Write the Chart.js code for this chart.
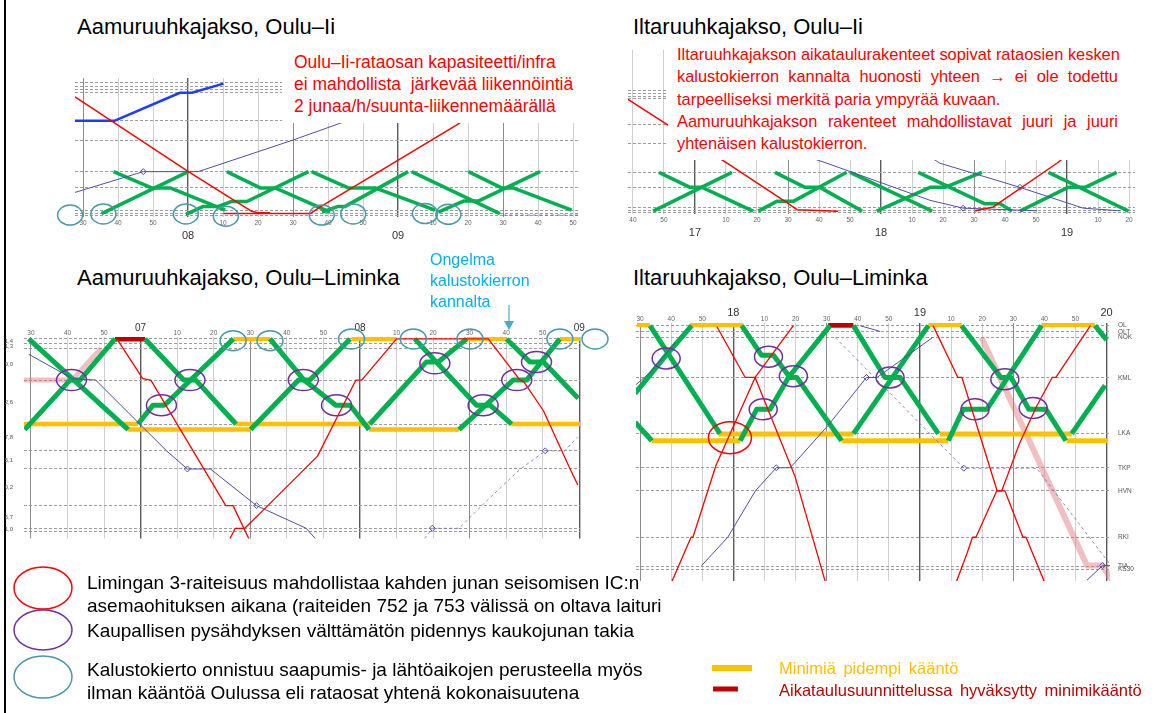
<!DOCTYPE html>
<html>
<head>
<meta charset="utf-8">
<script src="https://cdn.jsdelivr.net/npm/chart.js@4"></script>
<style>
  body { margin: 0; background: #fff; font-family: "Liberation Sans", Arial, sans-serif; }
  #page { position: relative; width: 1165px; height: 713px; overflow: hidden; background: #fff; }
  canvas { position: absolute; }
  .t { position: absolute; white-space: nowrap; }
  .title { font-size: 22px; line-height: 26px; color: #000; }
  .box { position: absolute; background: #fff; color: #ff0000; }
  .jl { text-align: justify; text-align-last: justify; white-space: nowrap; }
  .leg { font-size: 19px; line-height: 23px; color: #000; }
</style>
</head>
<body>
<div id="page">
  <div style="position:absolute;left:4px;top:0;width:1.5px;height:713px;background:#000"></div>

  <canvas id="c1" width="540" height="173" style="left:50px;top:73px"></canvas>
  <canvas id="c2" width="527" height="200" style="left:618px;top:45px"></canvas>
  <canvas id="c3" width="615" height="235" style="left:5px;top:310px"></canvas>
  <canvas id="c4" width="539" height="293" style="left:626px;top:300px"></canvas>

  <div class="t title" style="left:77px;top:14px">Aamuruuhkajakso, Oulu–Ii</div>
  <div class="t title" style="left:633px;top:14px">Iltaruuhkajakso, Oulu–Ii</div>
  <div class="t title" style="left:77px;top:265px">Aamuruuhkajakso, Oulu–Liminka</div>
  <div class="t title" style="left:633px;top:265px">Iltaruuhkajakso, Oulu–Liminka</div>

  <div class="box" style="left:282px;top:51px;width:308px;height:72px;padding-left:12px;box-sizing:border-box;font-size:17.5px;line-height:22px">
    <div>Oulu–Ii-rataosan kapasiteetti/infra</div>
    <div>ei mahdollista&nbsp; järkevää liikennöintiä</div>
    <div>2 junaa/h/suunta-liikennemäärällä</div>
  </div>

  <div class="box" style="left:668px;top:40px;width:475px;height:120px;padding:3px 0 0 9px;box-sizing:border-box;font-size:16.4px;line-height:22.3px">
    <div class="jl" style="width:441px">Iltaruuhkajakson aikataulurakenteet sopivat rataosien kesken</div>
    <div class="jl" style="width:441px">kalustokierron kannalta huonosti yhteen → ei ole todettu</div>
    <div>tarpeelliseksi merkitä paria ympyrää kuvaan.</div>
    <div class="jl" style="width:441px">Aamuruuhkajakson rakenteet mahdollistavat juuri ja juuri</div>
    <div>yhtenäisen kalustokierron.</div>
  </div>

  <div class="t" style="left:430px;top:249px;font-size:16px;line-height:21px;color:#00b0f0">Ongelma<br>kalustokierron<br>kannalta</div>

  <svg style="position:absolute;left:0;top:0" width="1165" height="713">
    <line x1="509" y1="305" x2="509" y2="322" stroke="#4bacc6" stroke-width="1.2"/>
    <polygon points="504,321 514,321 509,330" fill="#4bacc6"/>
    <ellipse cx="43" cy="588" rx="29" ry="21" fill="none" stroke="#ff0000" stroke-width="1.5"/>
    <ellipse cx="43" cy="630" rx="29" ry="20" fill="none" stroke="#7030a0" stroke-width="1.5"/>
    <ellipse cx="43" cy="677" rx="29" ry="21" fill="none" stroke="#4a98a8" stroke-width="1.5"/>
    <line x1="712" y1="668" x2="752" y2="668" stroke="#ffc000" stroke-width="6"/>
    <line x1="713" y1="689" x2="738" y2="689" stroke="#c00000" stroke-width="5"/>
  </svg>

  <div class="t leg" style="left:87px;top:571px">Limingan 3-raiteisuus mahdollistaa kahden junan seisomisen IC:n<br>asemaohituksen aikana (raiteiden 752 ja 753 välissä on oltava laituri</div>
  <div class="t leg" style="left:87px;top:619px">Kaupallisen pysähdyksen välttämätön pidennys kaukojunan takia</div>
  <div class="t leg" style="left:87px;top:658px">Kalustokierto onnistuu saapumis- ja lähtöaikojen perusteella myös<br>ilman kääntöä Oulussa eli rataosat yhtenä kokonaisuutena</div>

  <div class="t" style="left:779px;top:658px;font-size:16.5px;line-height:20px;color:#ffc000;word-spacing:3px">Minimiä pidempi kääntö</div>
  <div class="t" style="left:779px;top:680px;font-size:16.5px;line-height:20px;color:#c00000;word-spacing:3px">Aikataulusuunnittelussa hyväksytty minimikääntö</div>
</div>

<script>
var F = '"Liberation Sans", Arial, sans-serif';

// ---- Oulu–Ii, morning (time in minutes from midnight, distance km from Oulu)
var iiStations = [0, 0.5, 1.3, 7.2, 11.5, 19.7, 25.1, 32.5, 33.3, 34.0, 35.0];
var p1Ticks = [450, 460, 470, 480, 490, 500, 510, 520, 530, 540, 550, 560, 570, 580, 590];
var p1Green = [
  [[458.7, 11.5], [469.6, 7.2], [474.9, 7.2], [490.6, 1.3]],
  [[455.3, 0.4], [480.1, 11.5]],
  [[479.4, 0.2], [484.4, 2.3], [488.7, 2.3], [492.5, 3.6], [496.8, 3.6], [514.4, 11.5]],
  [[491.1, 11.5], [500.6, 7.2], [504.9, 7.2], [520.6, 0.8]],
  [[515.3, 11.5], [525.8, 7.2], [533.4, 7.2], [550.6, 1.3]],
  [[518.3, 0.8], [522.9, 2.3], [524.9, 2.3], [542.9, 11.5]],
  [[543.9, 11.5], [569.1, 0.4]],
  [[551.5, 0.8], [558.7, 3.7], [562.9, 3.7], [580.6, 11.5]],
  [[560.1, 11.5], [569.6, 7.2], [572.9, 7.2], [589.6, 1.3]]
];
var p1Red = [
  [[447.7, 31.3], [480.1, 11.5], [498.2, 1.0], [500, 0.6], [503.4, 0.6]],
  [[490.1, 0.4], [514.9, 0.4], [517.7, 2.1], [556.8, 23.9], [574.9, 34.8]]
];
var p1Train269 = [[447.7, 25.0], [459.1, 25.0], [477.7, 32.4], [481.1, 32.4], [490.1, 34.8]];
var p1Train5307 = [[447.7, 6.0], [467.2, 11.5], [482.9, 11.5], [510.1, 19.9], [523.4, 24.3], [540, 29.8]];
var p1Dashed = [[570, 0], [592, 0]];
var p1Diamonds = [[467.2, 11.5]];
var p1Teal = [[446.3, 0], [455.8, 0.3], [479.4, 0.3], [490.8, -0.3], [518.2, 0], [527.2, 0.3], [547.7, 0.4], [554.4, 0.2]];

// ---- Oulu–Ii, evening
var p2Ticks = [1000, 1010, 1020, 1030, 1040, 1050, 1060, 1070, 1080, 1090, 1100, 1110, 1120, 1130, 1140, 1150, 1160];
var p2Green = [
  [[1008.4, 11.5], [1018.4, 7.2], [1022.3, 7.2], [1038.7, 0.4]],
  [[1006.5, 0.4], [1031.9, 11.5]],
  [[1045.8, 11.5], [1055.5, 7.2], [1060.3, 7.2], [1073.9, 0.4]],
  [[1040.4, 0.4], [1046.4, 3.2], [1051.7, 3.2], [1068.9, 11.5]],
  [[1070, 11.5], [1096.5, 0.4]],
  [[1078.6, 0.4], [1095.8, 7.2], [1100.6, 7.2], [1112.5, 11.5]],
  [[1092, 11.5], [1113.5, 2.5], [1118.4, 2.5], [1122.2, 0.4]],
  [[1124.8, 0.4], [1140.3, 7.2], [1145.8, 7.2], [1156, 11.5]],
  [[1134, 11.5], [1159.8, 0.4]]
];
var p2Red = [
  [[998.4, 32.4], [1030.6, 14.0], [1050, 2.6], [1052.9, 0.8], [1066.1, 0.4]],
  [[1110.3, 0.5], [1116.2, 1.6], [1136.7, 14.1], [1153.9, 25.7]]
];
var p2Train5112 = [[1041, 20.6], [1062.9, 14.0], [1095.8, 3.5], [1106.5, 1.25], [1130.3, 0.5]];
var p2Train5114 = [[1086.1, 21.5], [1099, 14.1], [1109.7, 11.25], [1124.8, 7.2], [1145.2, 1.25], [1157.1, 0.5]];
var p2Diamonds = [[1106.5, 1.25], [1124.8, 7.2]];

// ---- Oulu–Liminka
var limStations = [0, 1.4, 2.7, 11.8, 24.4, 32.1, 37.3, 47.8, 54.3, 55.1];
var limNames = ['OL', 'OLT', 'NOK', 'KML', 'LKA', 'TKP', 'HVN', 'RKI', 'TIA', 'KS30'];
var limIntervals = ['1,4', '1,3', '9,0', '12,6', '7,8', '5,1', '10,2', '6,7', '1,0'];

// morning
var p3Ticks = [390, 400, 410, 420, 430, 440, 450, 460, 470, 480, 490, 500, 510, 520, 530, 540];
var p3Green = [
  [[388.3, 26.0], [400.7, 11.8], [403.4, 11.8], [413.0, 0]],
  [[389.4, 0], [416.6, 26.0]],
  [[421.2, 0], [431.8, 11.8], [435.1, 11.8], [446.1, 24.4]],
  [[419.3, 24.4], [423.4, 19.0], [426.5, 19.0], [445.4, 0]],
  [[450.1, 26.0], [463.2, 11.8], [466.3, 11.8], [477.3, 0]],
  [[455.4, 0], [464.7, 11.8], [473.4, 19.0], [477.3, 19.0], [482.5, 26.0]],
  [[482.7, 24.4], [498.2, 6.6], [501.4, 6.6], [509.2, 0]],
  [[495.0, 0], [511.9, 19.0], [515.6, 19.0], [521.5, 24.4]],
  [[507.1, 26.0], [521.9, 11.8], [525.6, 11.8], [534.7, 0]],
  [[520.1, 0], [526.5, 6.6], [530.2, 6.6], [539.7, 17.0]]
];
var p3Yellow = [
  [[387.8, 24.4], [419.3, 24.4]],
  [[416.6, 26.0], [450.1, 26.0]],
  [[445.4, 0], [455.4, 0]],
  [[446.1, 24.4], [482.7, 24.4]],
  [[482.5, 26.0], [507.1, 26.0]],
  [[477.7, 0], [490.0, 0]],
  [[509.2, 0], [520.1, 0]],
  [[521.5, 24.4], [540.2, 24.4]],
  [[534.7, 0], [540.2, 0]]
];
var p3DarkRed = [[[413.0, 0], [421.2, 0]]];
var p3Red = [
  [[413.5, 0], [420.6, 11.4], [422.8, 11.8], [443.3, 47.8], [445.3, 47.8], [450.2, 58.6]],
  [[443.8, 58.6], [445.9, 54.3], [448.5, 54.3], [454.8, 47.8], [468.4, 33.6], [478.9, 11.8], [480.5, 11.8],
   [490.0, 0], [515.1, 0], [523.8, 11.8], [524.9, 12.4], [530.2, 20.6], [537.5, 37.3], [539.6, 41.9]]
];
var p3Pink = [[387.8, 11.8], [401.2, 11.8], [402.3, 10.6], [409.1, 2.8]];
var p3Train5306 = [[389.4, 4.4], [401.4, 11.4], [407.7, 11.8], [427.1, 32.1], [432.8, 37.3], [439.1, 37.3], [451.7, 47.8], [465.3, 54.3], [468.9, 58.6]];
var p3Train5417 = [[496.7, 58.6], [499.8, 54.3], [507.1, 54.3], [514.5, 46.6], [523.9, 37.3], [530.7, 32.1], [536, 32.1], [539.6, 28.1]];
var p3Diamonds = [[432.8, 37.3], [451.7, 47.8], [499.8, 54.3], [530.7, 32.1]];
var p3Teal = [[445.3, 0.5], [455.4, 0.5], [477.7, 0], [494.6, 0], [510.1, 0], [534.7, 0], [544.3, 0]];
var p3Purple = [[401.1, 11.8], [433.5, 11.8], [425.7, 19.0], [464.5, 11.8], [473.6, 19.0], [500.5, 7.0], [513.7, 19.0], [522.9, 11.8], [528.3, 6.6]];

// evening
var p4Ticks = [1050, 1060, 1070, 1080, 1090, 1100, 1110, 1120, 1130, 1140, 1150, 1160, 1170, 1180, 1190, 1200];
var p4Green = [
  [[1048.4, 15.3], [1058.0, 7.0], [1066.6, 0]],
  [[1048.4, 21.8], [1053.8, 26.0]],
  [[1053.2, 0], [1075.7, 24.4]],
  [[1082.7, 0], [1089.1, 6.7], [1092.9, 6.7], [1098.2, 11.7], [1100.4, 11.7], [1114.8, 26.0]],
  [[1082.2, 26.0], [1087.5, 18.9], [1091.8, 18.9], [1097.7, 11.7], [1111.1, 0]],
  [[1118.6, 0], [1128.8, 11.7], [1133.6, 11.7], [1145.9, 24.4]],
  [[1118.6, 24.4], [1142.7, 0]],
  [[1153.4, 0], [1166, 11.7], [1169.3, 11.7], [1175, 18.9], [1180.5, 18.9], [1186.9, 26.0]],
  [[1149.1, 26.0], [1153.9, 18.9], [1161.5, 18.9], [1179.1, 0]],
  [[1188.8, 24.4], [1199.5, 13.5]],
  [[1196.3, 0], [1200, 3.2]]
];
var p4Yellow = [
  [[1049.0, -0.2], [1053.2, -0.2]],
  [[1066.1, -0.2], [1083.2, -0.2]],
  [[1142.7, -0.2], [1153.4, -0.2]],
  [[1179.1, -0.2], [1196.3, -0.2]],
  [[1053.8, 26.0], [1082.2, 26.0]],
  [[1075.2, 24.5], [1118.6, 24.5]],
  [[1114.8, 26.0], [1149.1, 26.0]],
  [[1146.4, 24.5], [1188.8, 24.5]],
  [[1187.2, 26.0], [1200.5, 26.0]]
];
var p4DarkRed = [[[1110.5, -0.1], [1118.6, -0.1]]];
var p4Red = [
  [[1074.7, 0.2], [1083.8, 11.7], [1087, 11.7], [1099.8, 34.0], [1109.5, 57.7]],
  [[1060.3, 57.7], [1066.4, 47.8], [1067, 47.8], [1074.4, 31.6], [1087, 11.7], [1099.3, 0]],
  [[1144.2, 0], [1152.2, 11.7], [1153.5, 11.7], [1164.8, 37.3], [1167.3, 37.3], [1173.1, 47.8], [1174.1, 47.8], [1179.9, 57.7]],
  [[1151.8, 57.7], [1155.2, 51.3], [1156.9, 47.8], [1158, 47.8], [1164.7, 37.3], [1166.3, 37.3], [1171.9, 26.8],
   [1177.5, 18.2], [1182.5, 11.7], [1183.7, 11.7], [1194.8, 0]]
];
var p4Blue = [
  [[1069.8, 54.2], [1078.2, 47.8], [1087.1, 37.3], [1093.8, 32.1], [1098.3, 32.1], [1110.5, 22.5], [1122.8, 11.7], [1126.2, 11.7], [1144, 2.7]],
  [[1120.7, 0], [1127.2, 1.3]],
  [[1048.4, 13.5], [1053.2, 10.6], [1061.4, 3.8]],
  [[1193.7, 57.5], [1198.7, 54.2], [1201.7, 54.2]]
];
var p4Dashed = [[1112.8, 2.7], [1154.1, 32.2], [1177.5, 32.2], [1201, 53.8]];
var p4Pink = [[1159.8, 2.7], [1193.7, 54.2], [1198.7, 54.2], [1202, 57.8]];
var p4Diamonds = [[1093.8, 32.1], [1122.8, 11.7], [1154.1, 32.2], [1198.7, 54.2]];
var p4Purple = [[1058.4, 7.4], [1091.3, 7.0], [1099.3, 11.4], [1089.6, 18.9], [1130.4, 11.7], [1157.7, 18.9], [1167.3, 12.1], [1176.4, 18.6]];
var p4RedRing = [[1078.9, 25.3]];

var GREEN = '#00b050', RED = '#ff0000', NAVY = '#4f4fa8', YELLOW = '#ffc000', DARKRED = '#c00000';
var TEAL = '#4a98a8', PURPLE = '#7030a0';

function xy(a) { return a.map(function (p) { return { x: p[0], y: p[1] }; }); }
function path(a, color, w, order, dash) {
  return { data: xy(a), showLine: true, borderColor: color, borderWidth: w, pointRadius: 0,
           fill: false, tension: 0, order: order, borderDash: dash || [], borderJoinStyle: 'round' };
}
function many(list, color, w, order) { return list.map(function (a) { return path(a, color, w, order); }); }
function diamonds(a) {
  return { data: xy(a), showLine: false, pointStyle: 'rectRot', pointRadius: 3, pointBorderWidth: 1,
           pointBorderColor: NAVY, pointBackgroundColor: 'rgba(0,0,0,0)', order: 0 };
}

var rings = {
  id: 'rings',
  afterDatasetsDraw: function (chart, args, opts) {
    var ctx = chart.ctx, xs = chart.scales.x, ys = chart.scales.y;
    (opts.sets || []).forEach(function (s) {
      ctx.save();
      ctx.strokeStyle = s.color;
      ctx.lineWidth = 1.5;
      s.points.forEach(function (p) {
        ctx.beginPath();
        ctx.ellipse(xs.getPixelForValue(p[0]), ys.getPixelForValue(p[1]), s.rx, s.ry, 0, 0, Math.PI * 2);
        ctx.stroke();
      });
      ctx.restore();
    });
  }
};

function isHour(c) { return c.tick && c.tick.value % 60 === 0; }

function timeAxis(ticks, min, max, top, height, hourSize) {
  var minuteFont = { family: F, size: 6.5, lineHeight: 1.2 };
  var hourFont = { family: F, size: hourSize, lineHeight: top ? 0.6 : 1 };
  return {
    type: 'linear', position: top ? 'top' : 'bottom', min: min, max: max,
    afterBuildTicks: function (s) { s.ticks = ticks.map(function (v) { return { value: v }; }); },
    afterFit: function (s) { s.height = height; },
    border: { display: false },
    grid: {
      drawTicks: false,
      color: function (c) {
        var v = c.tick ? c.tick.value : 1;
        return v % 60 === 0 ? '#5a5a5a' : (v % 30 === 0 ? '#8c8c8c' : '#cfcfcf');
      },
      lineWidth: function (c) { return isHour(c) ? 1.4 : 1; }
    },
    ticks: {
      autoSkip: false, maxRotation: 0, padding: top ? 0 : 2,
      color: function (c) { return isHour(c) ? '#333' : '#666'; },
      font: function (c) { return isHour(c) ? hourFont : minuteFont; },
      callback: function (v) {
        var m = v % 60;
        if (m === 0) {
          var h = ('0' + (v / 60)).slice(-2);
          return top ? [h, ''] : ['', h];
        }
        return String(m);
      }
    }
  };
}

function stationAxis(stations, min, max, reverse, width, pos, names) {
  return {
    type: 'linear', position: pos, min: min, max: max, reverse: reverse,
    afterBuildTicks: function (s) { s.ticks = stations.map(function (v) { return { value: v }; }); },
    afterFit: function (s) { s.width = width; },
    border: { display: false, dash: [3, 2] },
    grid: { drawTicks: false, color: '#9c9c9c', lineWidth: 1 },
    ticks: {
      display: !!names, autoSkip: false, padding: 8, color: '#555', font: { family: F, size: 6.5 },
      callback: function (v, i) { return names ? names[i] : ''; }
    }
  };
}

function draw(id, datasets, scales, padding, ringSets) {
  new Chart(document.getElementById(id), {
    type: 'scatter',
    data: { datasets: datasets },
    options: {
      responsive: false, animation: false, events: [],
      layout: { padding: padding },
      scales: scales,
      plugins: { legend: { display: false }, tooltip: { enabled: false }, rings: { sets: ringSets } }
    },
    plugins: [rings]
  });
}

// panel 1
draw('c1',
  [].concat(
    many(p1Red, RED, 1.5, 1),
    [path(p1Train269, '#1f3cff', 2.5, 2), path(p1Train5307, NAVY, 1, 2),
     path(p1Dashed, 'rgba(90,90,180,0.8)', 1, 2, [3, 3]), diamonds(p1Diamonds)],
    many(p1Green, GREEN, 3.5, 3)
  ),
  { x: timeAxis(p1Ticks, 447.7, 592, false, 29, 11),
    y: stationAxis(iiStations, -0.51, 36.3, false, 25, 'left', null) },
  { left: 0, right: 10, top: 0, bottom: 0 },
  [{ color: TEAL, rx: 12.5, ry: 10, points: p1Teal }]
);

// panel 2
draw('c2',
  [].concat(
    many(p2Red, RED, 1.5, 1),
    [path(p2Train5112, NAVY, 1, 2), path(p2Train5114, NAVY, 1, 2), diamonds(p2Diamonds)],
    many(p2Green, GREEN, 3.5, 3)
  ),
  { x: timeAxis(p2Ticks, 998.4, 1161.9, false, 31, 11),
    y: stationAxis(iiStations, -0.42, 46.5, false, 10, 'left', null) },
  { left: 0, right: 10, top: 0, bottom: 0 },
  []
);

// panel 3
var p3Scales = {
  x: timeAxis(p3Ticks, 388.1, 540.2, true, 27, 10),
  y: stationAxis(limStations, -0.55, 57.2, true, 0, 'left', null),
  yl: {
    type: 'linear', position: 'left', min: -0.55, max: 57.2, reverse: true,
    afterBuildTicks: function (s) {
      s.ticks = limStations.slice(1).map(function (v, i) { return { value: (v + limStations[i]) / 2 }; });
    },
    afterFit: function (s) { s.width = 19; },
    grid: { display: false }, border: { display: false },
    ticks: { autoSkip: false, padding: 3, color: '#555', font: { family: F, size: 6 },
             callback: function (v, i) { return limIntervals[i]; } }
  }
};
draw('c3',
  [].concat(
    many(p3Red, RED, 1.3, 1),
    [path(p3Train5306, NAVY, 1, 2), path(p3Train5417, 'rgba(110,110,190,0.8)', 1, 2, [3, 3]), diamonds(p3Diamonds)],
    many(p3Green, GREEN, 5, 3),
    many(p3DarkRed, DARKRED, 5, 4),
    many(p3Yellow, YELLOW, 4.5, 4),
    [path(p3Pink, 'rgba(225,110,120,0.45)', 5, 5)]
  ),
  p3Scales,
  { left: 0, right: 40, top: 0, bottom: 0 },
  [{ color: TEAL, rx: 13, ry: 10, points: p3Teal }, { color: PURPLE, rx: 15, ry: 10.5, points: p3Purple }]
);

// panel 4
draw('c4',
  [].concat(
    many(p4Red, RED, 1.3, 1),
    many(p4Blue, NAVY, 1, 2),
    [path(p4Dashed, 'rgba(110,110,190,0.8)', 1, 2, [3, 3]), diamonds(p4Diamonds)],
    many(p4Green, GREEN, 5, 3),
    many(p4DarkRed, DARKRED, 5, 4),
    many(p4Yellow, YELLOW, 5, 4),
    [path(p4Pink, 'rgba(225,110,120,0.45)', 6, 5)]
  ),
  { x: timeAxis(p4Ticks, 1048.7, 1201.1, true, 23, 11),
    y: stationAxis(limStations, -0.6, 57.7, true, 55, 'right', limNames) },
  { left: 10, right: 0, top: 0, bottom: 0 },
  [{ color: PURPLE, rx: 14, ry: 10.5, points: p4Purple }, { color: RED, rx: 21.5, ry: 16, points: p4RedRing }]
);
</script>
</body>
</html>
